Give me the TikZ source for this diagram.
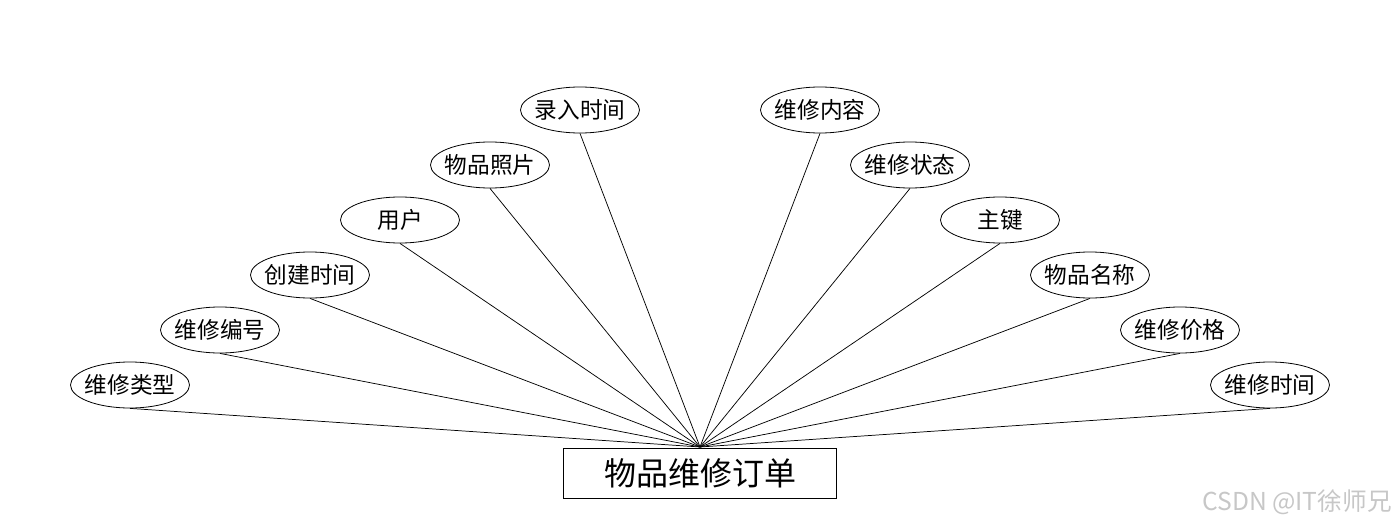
\documentclass[tikz,border=0pt]{standalone}
\usepackage{fontspec}
\setmainfont{Noto Sans CJK SC}
\usetikzlibrary{shapes.geometric}
\begin{document}
\begin{tikzpicture}[x=0.75pt,y=-0.75pt,
  attr/.style={draw,ellipse,line width=0.6pt,minimum width=119*0.75pt,minimum height=46*0.75pt,inner xsep=-4pt,inner ysep=-2pt,font=\fontsize{17}{19}\selectfont},
  ent/.style={draw,rectangle,line width=0.6pt,minimum width=273*0.75pt,minimum height=50*0.75pt,inner sep=0pt,font=\fontsize{24}{28}\selectfont},
  link/.style={line width=0.55pt}]
\useasboundingbox (0,0) rectangle (1400,528);
\node[ent] (e) at (700,473) {物品维修订单};
\coordinate (c) at (700,447);
\node[attr] (a1) at (130,385) {维修类型};
\node[attr] (a2) at (220,330) {维修编号};
\node[attr] (a3) at (310,275) {创建时间};
\node[attr] (a4) at (400,220) {用户};
\node[attr] (a5) at (490,165) {物品照片};
\node[attr] (a6) at (580,110) {录入时间};
\node[attr] (b1) at (820,110) {维修内容};
\node[attr] (b2) at (910,165) {维修状态};
\node[attr] (b3) at (1000,220) {主键};
\node[attr] (b4) at (1090,275) {物品名称};
\node[attr] (b5) at (1180,330) {维修价格};
\node[attr] (b6) at (1270,385) {维修时间};
\foreach \n in {a1,a2,a3,a4,a5,a6,b1,b2,b3,b4,b5,b6}
  \draw[link] (\n.south) -- (c);
\node[text=black!22,font=\fontsize{18.5}{20}\selectfont,anchor=east,inner sep=0pt] (wm) at (1392,502) {CSDN @IT徐师兄};
\end{tikzpicture}
\end{document}
